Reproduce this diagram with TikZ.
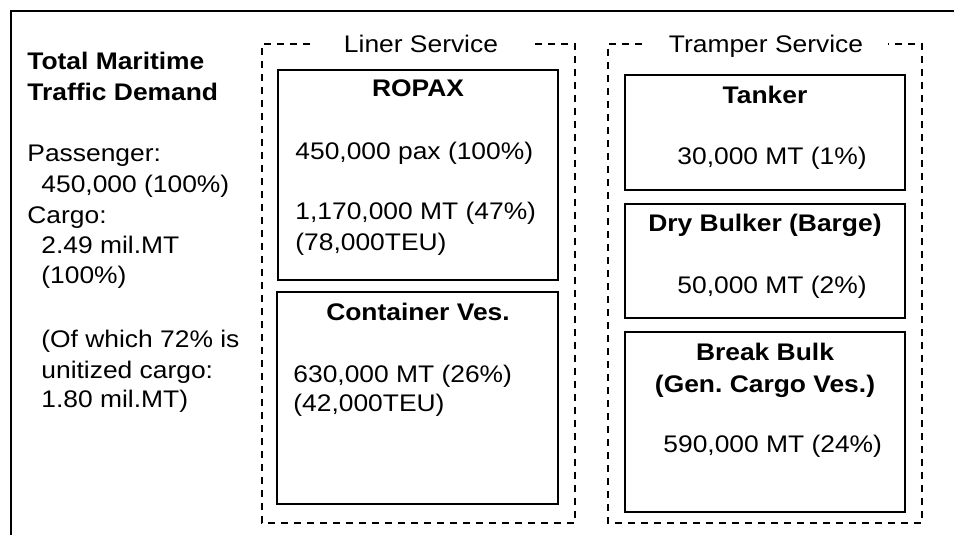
\documentclass[tikz,border=0pt]{standalone}
\usepackage{fontspec}
\setmainfont[FakeStretch=1.1]{Liberation Sans}
\frenchspacing
\begin{document}
\begin{tikzpicture}[x=0.5pt, y=-0.5pt,
  font=\fontsize{12}{15}\selectfont,
  txt/.style={inner sep=0pt, anchor=base west},
  head/.style={inner sep=0pt, anchor=base, font=\fontsize{12}{15}\selectfont\bfseries},
  headl/.style={inner sep=0pt, anchor=base west, font=\fontsize{12}{15}\selectfont\bfseries},
  frame/.style={line width=1pt},
  vessel/.style={line width=1pt},
  group/.style={line width=0.8pt, dash pattern=on 3.5pt off 3pt},
  grouplabel/.style={inner sep=0pt, anchor=base}]
\useasboundingbox (0,0) rectangle (954,535);

% outer frame
\draw[frame] (11,535) -- (11,11) -- (954,11);

% total demand column
\node[headl] (t1) at (27,70) {Total Maritime};
\node[headl] (t2) at (27,101) {Traffic Demand};
\node[txt] (p1) at (27,162) {Passenger:};
\node[txt] (p2) at (41,192) {450,000 (100\%)};
\node[txt] (c1) at (27,223) {Cargo:};
\node[txt] (c2) at (41,253) {2.49 mil.MT};
\node[txt] (c3) at (41,283) {(100\%)};
\node[txt] (u1) at (41,347) {(Of which 72\% is};
\node[txt] (u2) at (41,378) {unitized cargo:};
\node[txt] (u3) at (41,407) {1.80 mil.MT)};

% liner service group
\draw[group] (310,44) -- (262,44) -- (262,523) -- (575,523) -- (575,44) -- (530,44);
\node[grouplabel] (liner) at (421,53) {Liner Service};

\draw[vessel] (278,70) rectangle (558,280);
\node[head] (ropax) at (418,97) {ROPAX};
\node[txt] (ropax1) at (295,160) {450,000 pax (100\%)};
\node[txt] (ropax2) at (295,220) {1,170,000 MT (47\%)};
\node[txt] (ropax3) at (295,250) {(78,000TEU)};

\draw[vessel] (277,292) rectangle (558,504);
\node[head] (cont) at (418,321) {Container Ves.};
\node[txt] (cont1) at (293,382) {630,000 MT (26\%)};
\node[txt] (cont2) at (293,411) {(42,000TEU)};

% tramper service group
\draw[group] (642,44) -- (608,44) -- (608,523) -- (922,523) -- (922,44) -- (888,44);
\node[grouplabel] (tramper) at (766,53) {Tramper Service};

\draw[vessel] (625,75) rectangle (905,190);
\node[head] (tank) at (765,104) {Tanker};
\node[txt] (tank1) at (677,165) {30,000 MT (1\%)};

\draw[vessel] (625,204) rectangle (905,318);
\node[head] (dry) at (765,232) {Dry Bulker (Barge)};
\node[txt] (dry1) at (677,293) {50,000 MT (2\%)};

\draw[vessel] (625,332) rectangle (905,512);
\node[head] (bb1) at (765,360) {Break Bulk};
\node[head] (bb2) at (765,392) {(Gen. Cargo Ves.)};
\node[txt] (bb3) at (663,452) {590,000 MT (24\%)};
\end{tikzpicture}
\end{document}
